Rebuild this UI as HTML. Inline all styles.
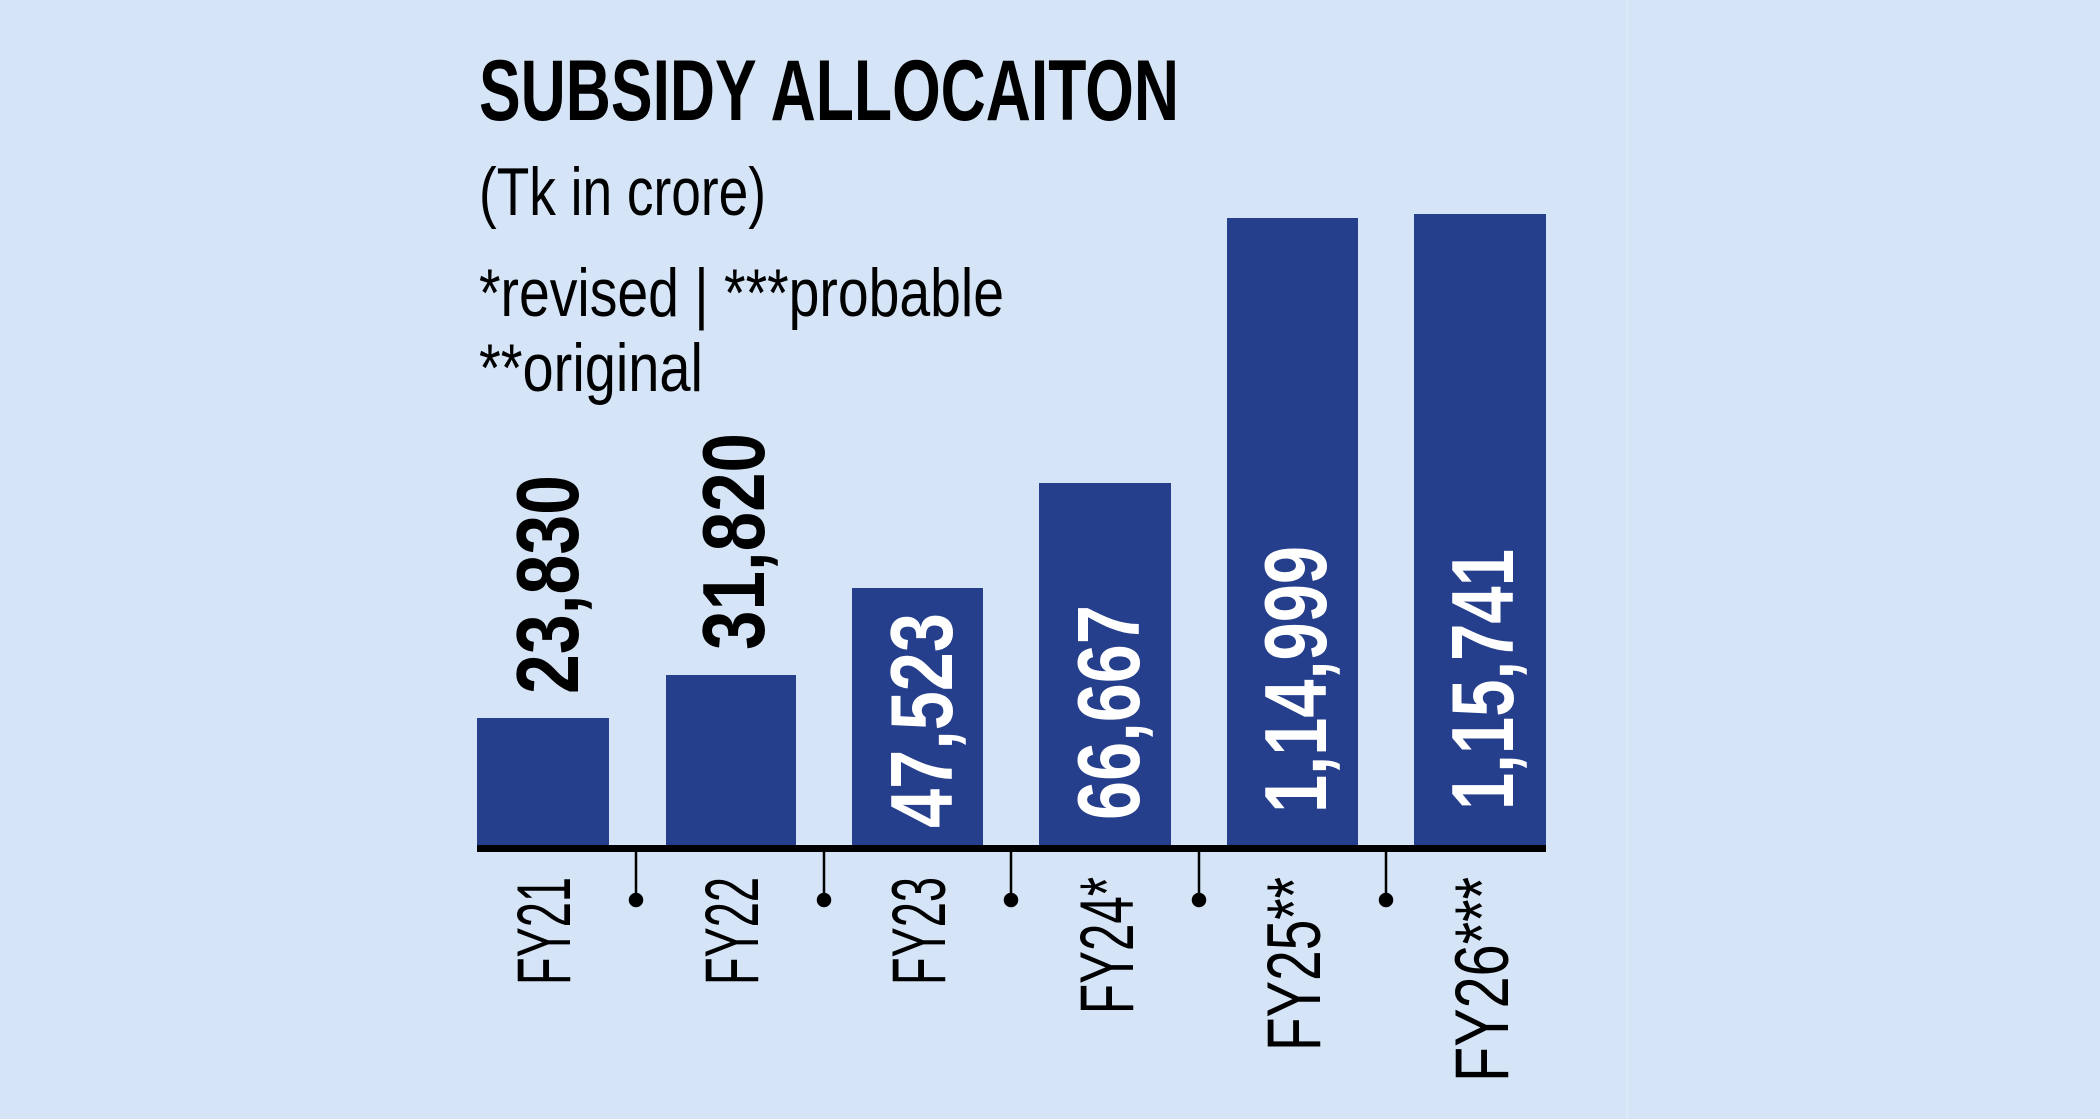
<!DOCTYPE html>
<html><head><style>
html,body{margin:0;padding:0;background:#d5e4f6;}
svg{display:block;}
</style></head><body>
<svg width="2100" height="1119" viewBox="0 0 2100 1119" xmlns="http://www.w3.org/2000/svg" font-family="Liberation Sans, sans-serif">
<rect width="2100" height="1119" fill="#d5e4f6"/>
<line x1="1627" y1="0" x2="1627" y2="1119" stroke="#dfeaf8" stroke-width="2"/>
<text x="479" y="120" font-size="86" font-weight="bold" textLength="700" lengthAdjust="spacingAndGlyphs">SUBSIDY ALLOCAITON</text>
<text x="479" y="215" font-size="68" textLength="287" lengthAdjust="spacingAndGlyphs">(Tk in crore)</text>
<text x="479" y="316" font-size="68" textLength="525" lengthAdjust="spacingAndGlyphs">*revised | ***probable</text>
<text x="479" y="391" font-size="68" textLength="224" lengthAdjust="spacingAndGlyphs">**original</text>
<g fill="#253f8c">
<rect x="477" y="718" width="132" height="130"/>
<rect x="666" y="675" width="130" height="173"/>
<rect x="852" y="588" width="131" height="260"/>
<rect x="1039" y="483" width="132" height="365"/>
<rect x="1227" y="218" width="131" height="630"/>
<rect x="1414" y="214" width="132" height="634"/>
</g>
<rect x="477" y="845" width="1069" height="7" fill="#000"/>
<g stroke="#000" stroke-width="2.5" fill="#000">
<line x1="636" y1="850" x2="636" y2="900"/><circle cx="636" cy="900" r="6"/>
<line x1="824" y1="850" x2="824" y2="900"/><circle cx="824" cy="900" r="6"/>
<line x1="1011" y1="850" x2="1011" y2="900"/><circle cx="1011" cy="900" r="6"/>
<line x1="1199" y1="850" x2="1199" y2="900"/><circle cx="1199" cy="900" r="6"/>
<line x1="1386" y1="850" x2="1386" y2="900"/><circle cx="1386" cy="900" r="6"/>
</g>
<g font-size="76" fill="#000" text-anchor="end">
<text transform="translate(570,877) rotate(-90)" textLength="108" lengthAdjust="spacingAndGlyphs">FY21</text>
<text transform="translate(758,877) rotate(-90)" textLength="108" lengthAdjust="spacingAndGlyphs">FY22</text>
<text transform="translate(945,877) rotate(-90)" textLength="108" lengthAdjust="spacingAndGlyphs">FY23</text>
<text transform="translate(1133,877) rotate(-90)" textLength="137" lengthAdjust="spacingAndGlyphs">FY24*</text>
<text transform="translate(1320,877) rotate(-90)" textLength="174" lengthAdjust="spacingAndGlyphs">FY25**</text>
<text transform="translate(1508,877) rotate(-90)" textLength="205" lengthAdjust="spacingAndGlyphs">FY26***</text>
</g>
<g font-size="88" font-weight="bold">
<text transform="translate(578,694) rotate(-90)" textLength="219" lengthAdjust="spacingAndGlyphs" fill="#000">23,830</text>
<text transform="translate(764,650) rotate(-90)" textLength="217" lengthAdjust="spacingAndGlyphs" fill="#000">31,820</text>
<text transform="translate(952,828) rotate(-90)" textLength="215" lengthAdjust="spacingAndGlyphs" fill="#fff">47,523</text>
<text transform="translate(1139,820) rotate(-90)" textLength="215" lengthAdjust="spacingAndGlyphs" fill="#fff">66,667</text>
<text transform="translate(1326,813) rotate(-90)" textLength="267" lengthAdjust="spacingAndGlyphs" fill="#fff">1,14,999</text>
<text transform="translate(1513,810) rotate(-90)" textLength="261" lengthAdjust="spacingAndGlyphs" fill="#fff">1,15,741</text>
</g>
</svg>
</body></html>
